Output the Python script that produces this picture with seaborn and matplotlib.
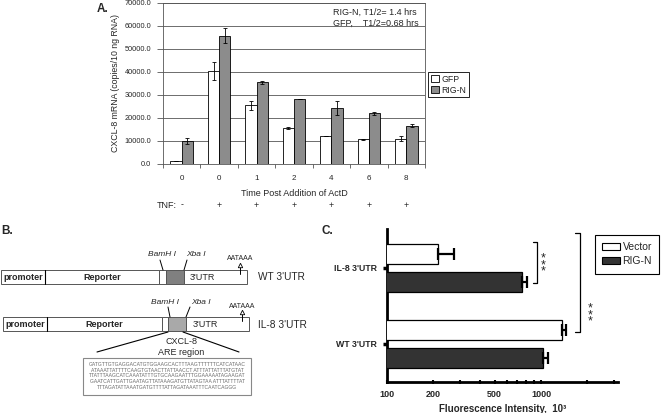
import numpy as np
import pandas as pd
import seaborn as sns
import matplotlib.pyplot as plt
import matplotlib.transforms as mtransforms
from matplotlib.patches import Rectangle, Patch
from matplotlib.ticker import FixedLocator, NullFormatter

# Panel A: CXCL-8 mRNA after ActD (copies / 10 ng RNA)
conditions = ['0 (TNF-)', '0', '1', '2', '4', '6', '8']
time_labels = ['0', '0', '1', '2', '4', '6', '8']
tnf_labels = ['-', '+', '+', '+', '+', '+', '+']
gfp_mrna = [1200, 40500, 25500, 15700, 12200, 10800, 11000]
gfp_err = [0, 3900, 2100, 600, 0, 250, 1000]
rign_mrna = [10000, 55800, 35500, 28100, 24300, 22000, 16700]
rign_err = [1200, 3200, 650, 0, 2900, 600, 650]

# Panel C: reporter fluorescence (x 10^3)
constructs = ["IL-8 3'UTR", "WT 3'UTR"]
vector_fluor = [214, 1368]
vector_err = [58, 85]
rign_fluor = [753, 1031]
rign_fluor_err = [58, 79]
c_ticks = [100, 200, 500, 1000]
c_minor = [300, 400, 600, 700, 800, 900, 2000, 3000]

# Panel B: CXCL-8 ARE region sequence
are_seq = [
    'GATGTTGTGAGGACATGTGGAAGCACTTTAAGTTTTTTCATCATAAC',
    'ATAAATTATTTTCAAGTGTAACTTATTAACCT ATTTATTATTTATGTAT',
    'TTATTTAAGCATCAAATATTTGTGCAAGAATTTGGAAAAATAGAAGAT',
    'GAATCATTGATTGAATAGTTATAAAGATGTTATAGTAA ATTTATTTTAT',
    'TTTAGATATTAAATGATGTTTTATTAGATAAATTTCAATCAGGG',
]

W, H = 664, 413
sns.set_theme(style='white')
plt.rcParams['font.family'] = ['Liberation Sans', 'DejaVu Sans']

fig = plt.figure(figsize=(W / 100, H / 100), dpi=100)


def px(x0, y0, x1, y1):
    # pixel box (top-left origin) -> figure fraction rect
    return [x0 / W, 1 - y1 / H, (x1 - x0) / W, (y1 - y0) / H]


# ---------- overlay for the schematic (panel B) and panel letters ----------
ov = fig.add_axes([0, 0, 1, 1])
ov.set_xlim(0, W)
ov.set_ylim(H, 0)
ov.axis('off')

ov.text(97, 9, 'A.', fontsize=8.5, fontweight='bold', va='center')
ov.text(1, 231, 'B.', fontsize=8.5, fontweight='bold', va='center')
ov.text(322, 231, 'C.', fontsize=8.5, fontweight='bold', va='center')


def draw_construct(top, bounds, gray, utr_x, arrow_x, bam, xba, tag):
    h = 14
    x0, x1, x2, x3, x4, x5 = bounds
    fills = ['white', 'white', 'white', gray, 'white']
    for (a, b), fc in zip(zip(bounds[:-1], bounds[1:]), fills):
        ov.add_patch(Rectangle((a, top), b - a, h, facecolor=fc,
                               edgecolor='#555555', lw=0.7))
    ov.plot([x1, x1], [top, top + h], color='black', lw=0.8)
    ov.text((x0 + x1) / 2, top + h / 2 + 0.5, 'promoter', fontsize=6.5,
            fontweight='bold', ha='center', va='center')
    ov.text((x1 + x2) / 2, top + h / 2 + 0.5, 'Reporter', fontsize=6.5,
            fontweight='bold', ha='center', va='center')
    ov.text(utr_x, top + h / 2 + 0.5, "3'UTR", fontsize=6.5, va='center')
    ov.text(258, top + h / 2 + 0.5, tag, fontsize=7.3, va='center')
    # restriction sites
    ov.text(bam[0], top - 15, 'BamH I', fontsize=6, fontstyle='italic',
            ha='center', va='center')
    ov.text(xba[0], top - 15, 'Xba I', fontsize=6, fontstyle='italic',
            ha='center', va='center')
    ov.plot([bam[1], bam[2]], [top - 10, top], color='black', lw=0.7)
    ov.plot([xba[1], xba[2]], [top - 10, top], color='black', lw=0.7)
    # polyA signal
    ov.text(arrow_x, top - 11, 'AATAAA', fontsize=5, ha='center', va='center')
    ov.plot([arrow_x, arrow_x], [top - 5, top + 4], color='black', lw=0.7)
    ov.plot([arrow_x], [top - 5.5], marker='^', ms=3.2, mfc='white',
            mec='black', mew=0.6)


draw_construct(270, [0.5, 45, 159, 166, 184, 247], '#808080', 190, 240,
               (162, 160, 163), (196, 187, 184), "WT 3'UTR")
draw_construct(317, [3, 47, 162, 168, 186, 249], '#a9a9a9', 193, 242,
               (165, 168, 170), (201, 190, 186), "IL-8 3'UTR")

ov.plot([168, 97], [332, 352], color='black', lw=0.8)
ov.plot([183, 239], [332, 352], color='black', lw=0.8)
ov.text(182, 342, 'CXCL-8', fontsize=6.5, ha='center', va='center')
ov.text(181, 352.5, 'ARE region', fontsize=6.5, ha='center', va='center')
ov.add_patch(Rectangle((83, 358), 168, 37, facecolor='white',
                       edgecolor='#888888', lw=0.8))
for i, line in enumerate(are_seq):
    ov.text(167, 364.3 + i * 5.75, line, fontsize=3.6, color='#6a6a6a',
            ha='center', va='center')

# ---------- Panel A ----------
ax = fig.add_axes(px(163, 3, 425, 164))
df_a = pd.DataFrame({
    'condition': conditions * 2,
    'mrna': gfp_mrna + rign_mrna,
    'vector': ['GFP'] * len(conditions) + ['RIG-N'] * len(conditions),
})
pal_a = {'GFP': 'white', 'RIG-N': '#8c8c8c'}
sns.barplot(data=df_a, x='condition', y='mrna', hue='vector', order=conditions,
            palette=pal_a, width=0.6, gap=0, edgecolor='black', linewidth=0.6,
            errorbar=None, legend=False, ax=ax, zorder=3)
for bars, err in zip(ax.containers, [gfp_err, rign_err]):
    xs = [b.get_x() + b.get_width() / 2 for b in bars]
    ys = [b.get_height() for b in bars]
    ax.errorbar(xs, ys, yerr=err, fmt='none', ecolor='black', elinewidth=0.6,
                capsize=1.6, capthick=0.6, zorder=4)

ax.set_ylim(0, 70000)
ax.set_xlim(-0.5, len(conditions) - 0.5)
ax.set_yticks(range(0, 70001, 10000))
ax.set_yticklabels([f'{v:.1f}' for v in range(0, 70001, 10000)], fontsize=5.3)
ax.set_xticks(range(len(conditions)))
ax.set_xticklabels(time_labels, fontsize=5.8)
ax.xaxis.set_minor_locator(FixedLocator(np.arange(-0.5, len(conditions), 1.0)))
ax.tick_params(axis='x', which='major', length=0, pad=8)
ax.tick_params(axis='x', which='minor', length=3, width=0.6, color='#555555',
               direction='out', bottom=True)
ax.tick_params(axis='y', length=4, width=0.6, color='#555555', pad=4.5,
               direction='out', left=True)
ax.yaxis.grid(True, color='#555555', lw=0.6)
ax.set_axisbelow(True)
for side, sp in ax.spines.items():
    sp.set_visible(True)
    sp.set_color('#555555')
    sp.set_linewidth(0.6)
ax.set_ylabel('CXCL-8 mRNA (copies/10 ng RNA)', fontsize=6.3, labelpad=3)
ax.set_xlabel('Time Post Addition of ActD', fontsize=6.5, labelpad=5)

trans = mtransforms.blended_transform_factory(ax.transData, ax.transAxes)
for i, s in enumerate(tnf_labels):
    ax.text(i, -0.255, s, transform=trans, fontsize=6.3, ha='center',
            va='center')
ax.text(-0.12, -0.255, 'TNF:', transform=trans, fontsize=6.5, ha='right',
        va='center')

ax.text(0.649, 0.944, 'RIG-N, T1/2= 1.4 hrs', transform=ax.transAxes,
        fontsize=6.5, va='center')
ax.text(0.649, 0.872, 'GFP,    T1/2=0.68 hrs', transform=ax.transAxes,
        fontsize=6.5, va='center')

handles_a = [Patch(facecolor=pal_a[k], edgecolor='black', lw=0.6) for k in pal_a]
leg = ax.legend(handles_a, list(pal_a), loc='upper left',
                bbox_to_anchor=((428 - 163) / 262, (164 - 72) / 161),
                frameon=True, fancybox=False, edgecolor='black', framealpha=1,
                fontsize=6.3, handlelength=0.9, handleheight=0.9,
                handletextpad=0.3, borderpad=0.3, labelspacing=0.25,
                borderaxespad=0)
leg.get_frame().set_linewidth(0.6)

# ---------- Panel C ----------
axc = fig.add_axes(px(387, 229, 618, 382))
df_c = pd.DataFrame({
    'construct': constructs * 2,
    'fluor': vector_fluor + rign_fluor,
    'group': ['Vector'] * len(constructs) + ['RIG-N'] * len(constructs),
})
pal_c = {'Vector': 'white', 'RIG-N': '#333333'}
sns.barplot(data=df_c, y='construct', x='fluor', hue='group', order=constructs,
            orient='h', palette=pal_c, width=0.75, gap=0.31,
            edgecolor='black', linewidth=0.9, errorbar=None, legend=False,
            ax=axc, zorder=3)
for bars, err in zip(axc.containers, [vector_err, rign_fluor_err]):
    ys = [b.get_y() + b.get_height() / 2 for b in bars]
    xs = [b.get_x() + b.get_width() for b in bars]
    axc.errorbar(xs, ys, xerr=[np.zeros(len(err)), err], fmt='none',
                 ecolor='black', elinewidth=1.6, capsize=4, capthick=1.6,
                 zorder=4)

axc.set_xscale('log')
axc.set_xlim(100, 3162)
axc.set_ylim(1.5, -0.513)
axc.xaxis.set_major_locator(FixedLocator(c_ticks))
axc.xaxis.set_minor_locator(FixedLocator(c_minor))
axc.xaxis.set_minor_formatter(NullFormatter())
axc.set_xticklabels([str(v) for v in c_ticks], fontsize=6.5, fontweight='bold')
axc.set_yticks(range(len(constructs)))
axc.set_yticklabels(constructs, fontsize=6.3, fontweight='bold')
axc.tick_params(axis='x', which='both', direction='inout', length=3, width=1.5,
                color='black', bottom=True, pad=4)
axc.tick_params(axis='y', direction='out', length=3, width=2.5, color='black',
                left=True, pad=4)
for side in ['top', 'right']:
    axc.spines[side].set_visible(False)
for side in ['left', 'bottom']:
    axc.spines[side].set_color('black')
    axc.spines[side].set_linewidth(2)
axc.set_ylabel('')
axc.set_xlabel('Fluorescence Intensity,  10³', fontsize=7, fontweight='bold',
               labelpad=4)

# significance brackets
axc.plot([887, 942, 942, 887], [-0.34, -0.34, 0.2, 0.2], color='black',
         lw=0.9, clip_on=False)
axc.plot([1664, 1791, 1791, 1664], [-0.46, -0.46, 0.84, 0.84], color='black',
         lw=0.9, clip_on=False)
axc.text(1035, -0.04, '*\n*\n*', fontsize=9, ha='center', va='center',
         linespacing=0.4)
axc.text(2090, 0.62, '*\n*\n*', fontsize=9, ha='center', va='center',
         linespacing=0.4, clip_on=False)

handles_c = [Patch(facecolor=pal_c[k], edgecolor='black', lw=0.8) for k in pal_c]
legc = axc.legend(handles_c, list(pal_c), loc='upper left',
                  bbox_to_anchor=((595 - 387) / 231, (382 - 235) / 153),
                  frameon=True, fancybox=False, edgecolor='black',
                  framealpha=1, fontsize=7.5, handlelength=1.7,
                  handleheight=0.6, handletextpad=0.25, borderpad=0.7,
                  labelspacing=0.4, borderaxespad=0)
legc.get_frame().set_linewidth(0.8)

fig.savefig('out.png', dpi=100, facecolor='white')
